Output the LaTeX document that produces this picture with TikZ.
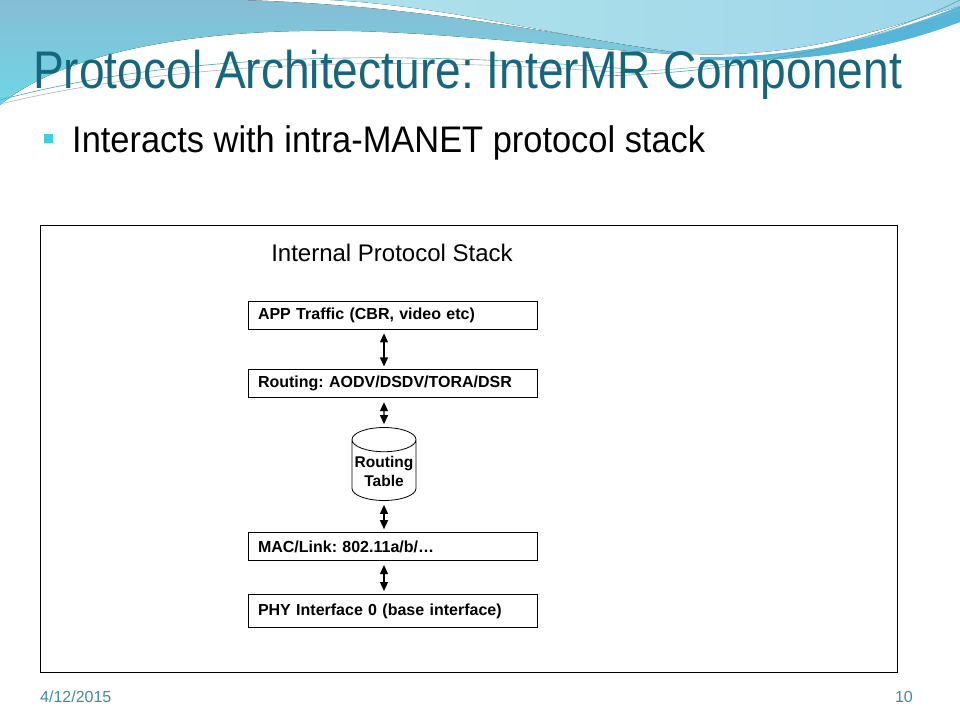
\documentclass[tikz,border=0pt]{standalone}
\usepackage{fontspec}
\setmainfont{Liberation Sans}
\newfontfamily\titlefont[FakeStretch=0.87]{Liberation Sans}
\newfontfamily\bulletfont[FakeStretch=0.93]{Liberation Sans}
\usetikzlibrary{positioning,shapes.geometric,arrows.meta}
\definecolor{titleteal}{HTML}{17667C}
\definecolor{footteal}{HTML}{3E8AA3}
\definecolor{bulletcyan}{HTML}{3ECEDF}
\definecolor{wavedark}{HTML}{86BDD5}
\definecolor{wavecyan}{HTML}{6ED6E6}
\definecolor{wavelight}{HTML}{AEE2EA}
\definecolor{wavelight2}{HTML}{9FD6EA}
\definecolor{waveband}{HTML}{55B6D9}
\frenchspacing

\begin{document}
\begin{tikzpicture}[x=1pt, y=-1pt,
    layer/.style={draw, line width=0.8pt, minimum width=289pt, minimum height=28pt,
      text width=269pt, inner xsep=10pt, align=left,
      font=\fontsize{16}{18}\selectfont\bfseries},
    store/.style={cylinder, shape border rotate=90, draw, line width=0.8pt,
      minimum width=64pt, minimum height=73pt, shape aspect=0.4, align=center,
      inner xsep=1pt, font=\fontsize{15.5}{19}\selectfont\bfseries},
    link/.style={{Triangle[length=9pt,width=8pt]}-{Triangle[length=9pt,width=8pt]},
      line width=1.2pt, shorten <=4pt, shorten >=3pt},
    wire/.style={line width=0.6pt}
  ]
  \useasboundingbox (0,0) rectangle (960,720);

  % slide background waves
  \fill[top color=wavedark, bottom color=wavecyan]
    (0,0) -- (240,0) .. controls (420,5) and (560,35) .. (690,55)
    .. controls (560,48) and (420,28) .. (300,31)
    .. controls (180,33) and (60,55) .. (0,105) -- cycle;
  \fill[left color=wavelight, right color=wavelight2]
    (330,0) -- (960,0) -- (960,6) .. controls (880,30) and (800,58) .. (690,54)
    .. controls (560,38) and (450,6) .. (330,0) -- cycle;
  \fill[waveband]
    (700,57) .. controls (820,58) and (900,30) .. (960,6) -- (960,22)
    .. controls (900,45) and (820,64) .. (700,60) -- cycle;
  \draw[wire, teal!70] (0,100) .. controls (150,60) and (350,45) .. (640,70);
  \draw[wire, gray!60] (0,104) .. controls (160,66) and (360,52) .. (640,74);
  \draw[wire, teal!70] (600,76) .. controls (780,72) and (900,30) .. (960,0);
  \draw[wire, teal!50] (620,72) .. controls (800,66) and (900,26) .. (960,10);

  % title and bullet
  \node[anchor=base west, inner sep=0pt, text=titleteal,
    font=\fontsize{53}{60}\titlefont] (title) at (33,88)
    {Protocol Architecture: InterMR Component};
  \fill[bulletcyan] (44,134) rectangle (53,143);
  \node[anchor=base west, inner sep=0pt, font=\fontsize{37}{42}\bulletfont] (bullet)
    at (72,152) {Interacts with intra-MANET protocol stack};

  % diagram frame
  \draw[line width=0.8pt] (40,225) rectangle (897,672);
  \node[anchor=base, inner sep=0pt, font=\fontsize{24}{28}\selectfont] (stack)
    at (392,261) {Internal Protocol Stack};

  % protocol layers
  \node[layer] (app) at (392.5,315) {APP Traffic (CBR, video etc)};
  \node[layer, below=40pt of app] (routing) {Routing: AODV/DSDV/TORA/DSR};
  \node[store, anchor=shape center] (table) at (384,464) {Routing\\Table};
  \node[layer, below=134pt of routing] (mac) {MAC/Link: 802.11a/b/\dots};
  \node[layer, below=33pt of mac, minimum height=33pt] (phy) {PHY Interface 0 (base interface)};

  \draw[link] (app.south -| table.center) -- (routing.north -| table.center);
  \draw[link] (routing.south -| table.center) -- (table.north);
  \draw[link] (table.south) -- (mac.north -| table.center);
  \draw[link] (mac.south -| table.center) -- (phy.north -| table.center);

  % footer
  \node[anchor=base west, inner sep=0pt, text=footteal, font=\fontsize{16}{18}\selectfont]
    (date) at (40,702) {4/12/2015};
  \node[anchor=base east, inner sep=0pt, text=footteal, font=\fontsize{16}{18}\selectfont]
    (page) at (913,702) {10};
\end{tikzpicture}
\end{document}
